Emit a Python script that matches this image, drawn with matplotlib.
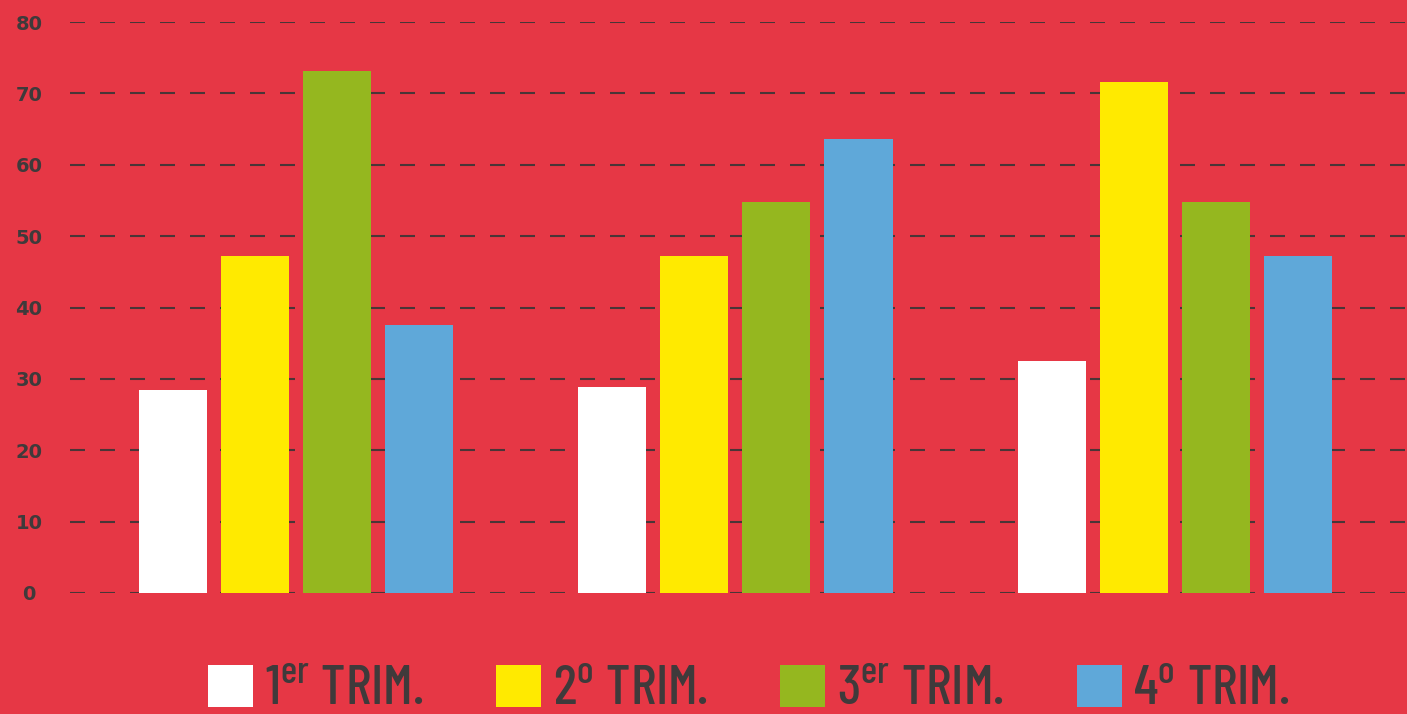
import matplotlib
matplotlib.use("Agg")
import matplotlib.pyplot as plt
from matplotlib import font_manager as fm
from matplotlib.patches import Patch
import numpy as np

# data
groups = ["A", "B", "C"]
series_labels = [r"1$^{\mathrm{er}}$ TRIM.", r"2$^{\mathrm{o}}$ TRIM.",
                 r"3$^{\mathrm{er}}$ TRIM.", r"4$^{\mathrm{o}}$ TRIM."]
trim1 = [28.4, 28.8, 32.5]
trim2 = [47.2, 47.2, 71.6]
trim3 = [73.1, 54.8, 54.8]
trim4 = [37.5, 63.6, 47.2]
yticks = [0, 10, 20, 30, 40, 50, 60, 70, 80]

BG = "#e63745"
TEXT = "#3f3a3b"
colors = ["#ffffff", "#ffea00", "#95b71f", "#5fa8d9"]

# a condensed face for the legend, whichever is installed
have = {f.name for f in fm.fontManager.ttflist}
cond = next((n for n in ["Barlow Condensed", "Roboto Condensed", "Saira Condensed",
                         "Archivo Narrow", "PT Sans Narrow", "Encode Sans Condensed",
                         "Liberation Sans Narrow", "Open Sans Condensed"] if n in have),
            "DejaVu Sans")

plt.rcParams["lines.scale_dashes"] = False
plt.rcParams["mathtext.fontset"] = "custom"
plt.rcParams["mathtext.rm"] = cond + ":weight=medium"

fig = plt.figure(figsize=(14.07, 7.14), dpi=100, facecolor=BG)
ax = fig.add_axes([70 / 1407, 1 - 593 / 714, 1 - 70 / 1407, (593 - 22) / 714])
ax.set_facecolor(BG)

x = np.arange(len(groups))
step = 0.1866
width = 0.155
for i, vals in enumerate([trim1, trim2, trim3, trim4]):
    ax.bar(x + (i - 1.5) * step, vals, width, color=colors[i], zorder=3,
           label=series_labels[i])

ax.set_xlim(-0.514, 2.528)
ax.set_ylim(0, 80)
ax.set_yticks(yticks)
ax.set_xticks([])
for s in ax.spines.values():
    s.set_visible(False)
ax.tick_params(axis="y", length=0, pad=29.5, labelsize=14, labelcolor=TEXT)
for lab in ax.get_yticklabels():
    lab.set_fontweight("bold")
    lab.set_horizontalalignment("center")
ax.yaxis.grid(True, color="#4a3537", linewidth=1.5, dashes=(10.8, 10.8), zorder=1)
ax.set_axisbelow(True)

handles = [Patch(facecolor=c, edgecolor="none") for c in colors]
leg = fig.legend(handles, series_labels, loc="center", ncol=4,
                 bbox_to_anchor=(749 / 1407, 1 - 690 / 714),
                 frameon=False, handlelength=0.81, handleheight=0.79,
                 handletextpad=0.21, columnspacing=1.31,
                 prop={"family": [cond, "DejaVu Sans"], "size": 40, "weight": "medium"})
for t in leg.get_texts():
    t.set_color(TEXT)

fig.savefig("out.png", dpi=100, facecolor=BG)
